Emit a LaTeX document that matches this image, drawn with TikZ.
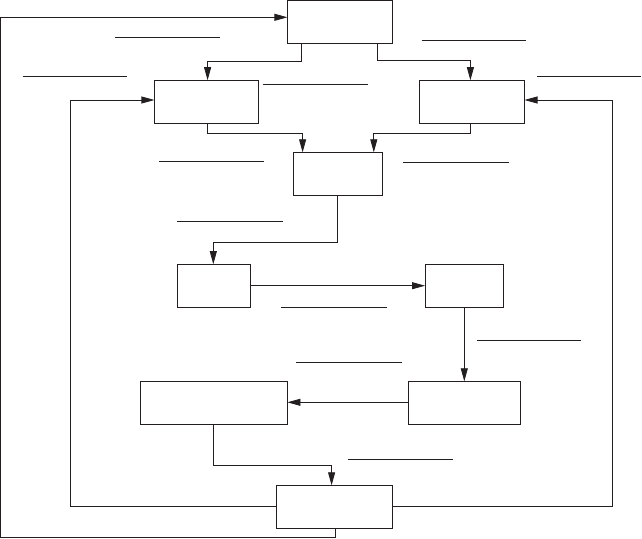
\documentclass[tikz,border=0pt]{standalone}
\usetikzlibrary{arrows.meta}
\definecolor{ink}{HTML}{231F20}
\tikzset{
  box/.style={draw=ink, line width=0.8pt, rectangle, inner sep=0pt, outer sep=0pt, minimum height=43pt},
  arr/.style={draw=ink, line width=0.8pt, -{Triangle[length=13pt,width=7pt]}},
  conn/.style={draw=ink, line width=0.8pt},
  blank/.style={draw=ink, line width=0.8pt}
}
\begin{document}
\begin{tikzpicture}[x=1pt,y=-1pt]
\useasboundingbox (0,0) rectangle (642,538);
% boxes
\node[box, minimum width=104.8pt] (T) at (339.8,22) {};
\node[box, minimum width=104pt] (L) at (206.4,101.7) {};
\node[box, minimum width=104.8pt] (R) at (472.1,101.7) {};
\node[box, minimum width=88.8pt] (C) at (338,173.8) {};
\node[box, minimum width=73.3pt] (D) at (214,285.7) {};
\node[box, minimum width=78.6pt] (E) at (464.3,285.7) {};
\node[box, minimum width=147pt] (F) at (213.9,402.8) {};
\node[box, minimum width=112.2pt] (G) at (464.3,402.8) {};
\node[box, minimum width=116.2pt] (H) at (334.5,506.8) {};
\coordinate (ol) at (0.8,17.3);
% connectors
\draw[arr] ([xshift=-38.1pt]T.south) -- ++(0,17.7) -| ([xshift=1.2pt]L.north);
\draw[arr] ([xshift=37.3pt]T.south) -- ++(0,17) -| ([xshift=-1.7pt]R.north);
\draw[arr] ([xshift=1.2pt]L.south) -- ++(0,9.7) -| ([xshift=-35.4pt]C.north);
\draw[arr] ([xshift=-1.7pt]R.south) -- ++(0,9.7) -| ([xshift=35.8pt]C.north);
\draw[arr] ([xshift=-0.6pt]C.south) -- ++(0,47.4) -| ([xshift=-0.7pt]D.north);
\draw[arr] (D.east) -- (E.west);
\draw[arr] (E.south) -- (G.north);
\draw[arr] ([yshift=0.5pt]G.west) -- ([yshift=0.5pt]F.east);
\draw[arr] ([xshift=-0.6pt]F.south) -- ++(0,41) -| ([xshift=-2.9pt]H.north);
\draw[arr] (H.west) -| ([xshift=-84.4pt,yshift=1.7pt]L.west) -- ([yshift=1.7pt]L.west);
\draw[arr] (H.east) -| ([xshift=88pt,yshift=1.7pt]R.east) -- ([yshift=1.7pt]R.east);
\draw[arr] ([xshift=0.4pt]H.south) -- ++(0,8.7) -| (ol) -- ([yshift=4.7pt]T.west);
% blank label lines
\draw[blank] (114.6,37.3) -- (219.9,37.3);
\draw[blank] (421.7,40) -- (526.1,40);
\draw[blank] (22.5,76) -- (126.9,76);
\draw[blank] (537.2,76.3) -- (640.8,76.3);
\draw[blank] (262.9,84.3) -- (367.7,84.3);
\draw[blank] (158.9,161.3) -- (264.1,161.3);
\draw[blank] (403.3,162.3) -- (508.9,162.3);
\draw[blank] (176.9,221) -- (282.9,221);
\draw[blank] (280.9,307.3) -- (386.5,307.3);
\draw[blank] (477,340.3) -- (581.4,340.3);
\draw[blank] (296.4,362.3) -- (402.1,362.3);
\draw[blank] (347.6,459.3) -- (452.8,459.3);
\end{tikzpicture}
\end{document}
